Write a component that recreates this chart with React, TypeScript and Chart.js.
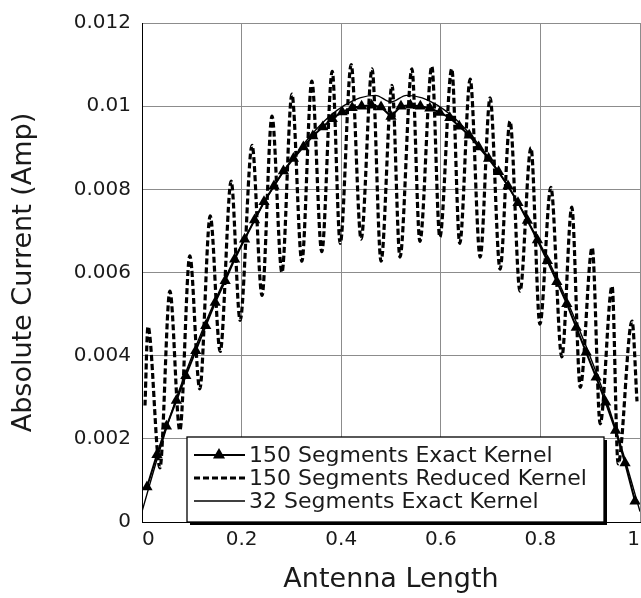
import React, { useEffect, useRef } from 'react';
import { Chart, registerables } from 'chart.js';

Chart.register(...registerables);

// 150 segments, exact kernel (triangle markers)
const exactX = [
  0.010, 0.030, 0.049, 0.069, 0.088, 0.108, 0.128, 0.147, 0.167, 0.186,
  0.206, 0.226, 0.245, 0.265, 0.284, 0.304, 0.324, 0.343, 0.363, 0.382,
  0.402, 0.422, 0.441, 0.461, 0.480, 0.500, 0.520, 0.539, 0.559, 0.578,
  0.598, 0.618, 0.637, 0.657, 0.676, 0.696, 0.716, 0.735, 0.755, 0.774,
  0.794, 0.814, 0.833, 0.853, 0.872, 0.892, 0.912, 0.931, 0.951, 0.970, 0.990,
];
const exactY = [
  0.00084, 0.00162, 0.00230, 0.00292, 0.00352, 0.00412, 0.00472, 0.00528, 0.00580, 0.00632,
  0.00680, 0.00726, 0.00770, 0.00808, 0.00844, 0.00874, 0.00902, 0.00928, 0.00950, 0.00970,
  0.00986, 0.00996, 0.01000, 0.01002, 0.00998, 0.00975, 0.01000, 0.01002, 0.01000, 0.00995,
  0.00985, 0.00972, 0.00952, 0.00930, 0.00902, 0.00874, 0.00842, 0.00808, 0.00768, 0.00725,
  0.00678, 0.00628, 0.00578, 0.00525, 0.00468, 0.00408, 0.00348, 0.00288, 0.00220, 0.00142, 0.00050,
];

// 150 segments, reduced kernel (dashed, oscillating)
const reducedX = [
  0.006, 0.012, 0.036, 0.056, 0.076, 0.096, 0.116, 0.137, 0.157, 0.179,
  0.197, 0.221, 0.241, 0.261, 0.281, 0.301, 0.321, 0.341, 0.361, 0.382,
  0.398, 0.420, 0.440, 0.462, 0.480, 0.502, 0.518, 0.542, 0.558, 0.582,
  0.598, 0.622, 0.638, 0.659, 0.679, 0.699, 0.719, 0.739, 0.759, 0.781,
  0.799, 0.821, 0.843, 0.863, 0.880, 0.904, 0.920, 0.944, 0.956, 0.984, 0.994,
];
const reducedY = [
  0.00280, 0.00470, 0.00130, 0.00555, 0.00220, 0.00640, 0.00320, 0.00736, 0.00410, 0.00820,
  0.00485, 0.00906, 0.00545, 0.00976, 0.00600, 0.01029, 0.00627, 0.01060, 0.00650, 0.01084,
  0.00670, 0.01100, 0.00680, 0.01090, 0.00627, 0.01050, 0.00637, 0.01090, 0.00675, 0.01096,
  0.00685, 0.01090, 0.00670, 0.01065, 0.00637, 0.01020, 0.00608, 0.00964, 0.00555, 0.00900,
  0.00476, 0.00805, 0.00397, 0.00757, 0.00324, 0.00660, 0.00236, 0.00567, 0.00140, 0.00483, 0.00290,
];

// 32 segments, exact kernel (thin solid)
const coarseX = [
  0, 0.03125, 0.0625, 0.09375, 0.125, 0.15625, 0.1875, 0.21875, 0.25, 0.28125,
  0.3125, 0.34375, 0.375, 0.40625, 0.4375, 0.46875, 0.5, 0.53125, 0.5625, 0.59375,
  0.625, 0.65625, 0.6875, 0.71875, 0.75, 0.78125, 0.8125, 0.84375, 0.875, 0.90625,
  0.9375, 0.96875, 1,
];
const coarseY = [
  0.00025, 0.00155, 0.00275, 0.00378, 0.00472, 0.00558, 0.00638, 0.00710, 0.00778, 0.00838,
  0.00890, 0.00936, 0.00974, 0.01002, 0.01020, 0.01026, 0.01010, 0.01026, 0.01020, 0.01002,
  0.00974, 0.00936, 0.00890, 0.00838, 0.00778, 0.00710, 0.00638, 0.00558, 0.00472, 0.00378,
  0.00275, 0.00155, 0.00025,
];

const xTicks = [0, 0.2, 0.4, 0.6, 0.8, 1];
const yTicks = [0, 0.002, 0.004, 0.006, 0.008, 0.01, 0.012];

const seriesLabels = [
  '150 Segments Exact Kernel',
  '150 Segments Reduced Kernel',
  '32 Segments Exact Kernel',
];

const FONT = '"DejaVu Sans", "Liberation Sans", sans-serif';
const INK = '#1a1a1a';

const toPoints = (xs: number[], ys: number[]) => xs.map((x, i) => ({ x, y: ys[i] }));

const legendBoxPlugin = {
  id: 'legendBox',
  afterDraw(chart: any) {
    const { ctx, chartArea } = chart;
    const x0 = chartArea.left + 45;
    const w = 417;
    const h = 85;
    const y0 = chartArea.bottom - h;
    ctx.save();
    ctx.fillStyle = '#000';
    ctx.fillRect(x0 + 3, y0 + 3, w, h);
    ctx.fillStyle = '#fff';
    ctx.fillRect(x0, y0, w, h);
    ctx.strokeStyle = '#000';
    ctx.lineWidth = 1.3;
    ctx.strokeRect(x0, y0, w, h);

    const rows = [y0 + 18, y0 + 41, y0 + 64];
    const ds = chart.data.datasets;
    rows.forEach((ry: number, i: number) => {
      const d = ds[i];
      ctx.strokeStyle = '#000';
      ctx.lineWidth = d.borderWidth;
      ctx.setLineDash(d.borderDash || []);
      ctx.beginPath();
      ctx.moveTo(x0 + 7, ry);
      ctx.lineTo(x0 + 58, ry);
      ctx.stroke();
      ctx.setLineDash([]);
      if (i === 0) {
        const cx = x0 + 32;
        const r = 7;
        ctx.fillStyle = '#000';
        ctx.beginPath();
        ctx.moveTo(cx, ry - r);
        ctx.lineTo(cx + r * 0.866, ry + r * 0.5);
        ctx.lineTo(cx - r * 0.866, ry + r * 0.5);
        ctx.closePath();
        ctx.fill();
      }
      ctx.fillStyle = INK;
      ctx.font = `22px ${FONT}`;
      ctx.textAlign = 'left';
      ctx.textBaseline = 'middle';
      ctx.fillText(d.label, x0 + 62, ry + 1);
    });
    ctx.restore();
  },
};

export default function App() {
  const ref = useRef<HTMLCanvasElement | null>(null);

  useEffect(() => {
    if (!ref.current) return;
    const chart = new Chart(ref.current, {
      type: 'line',
      data: {
        datasets: [
          {
            label: seriesLabels[0],
            data: toPoints(exactX, exactY),
            borderColor: '#000',
            backgroundColor: '#000',
            borderWidth: 2,
            pointStyle: 'triangle',
            pointRadius: 6.5,
            pointBorderWidth: 0,
            tension: 0,
            order: 1,
          },
          {
            label: seriesLabels[1],
            data: toPoints(reducedX, reducedY),
            borderColor: '#000',
            borderWidth: 3.2,
            borderDash: [6, 3],
            pointRadius: 0,
            cubicInterpolationMode: 'monotone',
            order: 2,
          },
          {
            label: seriesLabels[2],
            data: toPoints(coarseX, coarseY),
            borderColor: '#000',
            borderWidth: 1.4,
            pointRadius: 0,
            cubicInterpolationMode: 'monotone',
            order: 0,
          },
        ],
      },
      options: {
        animation: false,
        responsive: true,
        maintainAspectRatio: false,
        layout: { autoPadding: false, padding: { top: 23, right: 1, bottom: 0, left: 0 } },
        plugins: {
          legend: { display: false },
          tooltip: { enabled: false },
        },
        scales: {
          x: {
            type: 'linear',
            min: 0,
            max: 1,
            afterBuildTicks: (s: any) => {
              s.ticks = xTicks.map((v) => ({ value: v }));
            },
            afterFit: (s: any) => {
              s.height = 76;
              s.paddingLeft = 0;
              s.paddingRight = 0;
            },
            ticks: {
              color: INK,
              font: { family: FONT, size: 20 },
              padding: 6,
              align: 'inner',
              maxRotation: 0,
              callback: (v: any) => String(Number(v)),
            },
            grid: { color: '#8c8c8c', lineWidth: 1, drawTicks: false },
            border: { color: '#000', width: 1 },
            title: {
              display: true,
              text: 'Antenna Length',
              color: INK,
              font: { family: FONT, size: 27, weight: 'normal' },
              padding: { top: 0, bottom: 2 },
            },
          },
          y: {
            type: 'linear',
            min: 0,
            max: 0.012,
            afterBuildTicks: (s: any) => {
              s.ticks = yTicks.map((v) => ({ value: v }));
            },
            afterFit: (s: any) => {
              s.width = 142;
            },
            ticks: {
              color: INK,
              font: { family: FONT, size: 20 },
              padding: 11,
              callback: (v: any) => String(Number(v)),
            },
            grid: { color: '#8c8c8c', lineWidth: 1, drawTicks: false },
            border: { color: '#000', width: 1 },
            title: {
              display: true,
              text: 'Absolute Current (Amp)',
              color: INK,
              font: { family: FONT, size: 27, weight: 'normal' },
              padding: { top: 8, bottom: 0 },
            },
          },
        },
      },
      plugins: [legendBoxPlugin],
    });
    return () => chart.destroy();
  }, []);

  return (
    <div style={{ position: 'fixed', left: 0, top: 0, width: 641, height: 598, background: '#fff' }}>
      <canvas ref={ref} />
    </div>
  );
}
